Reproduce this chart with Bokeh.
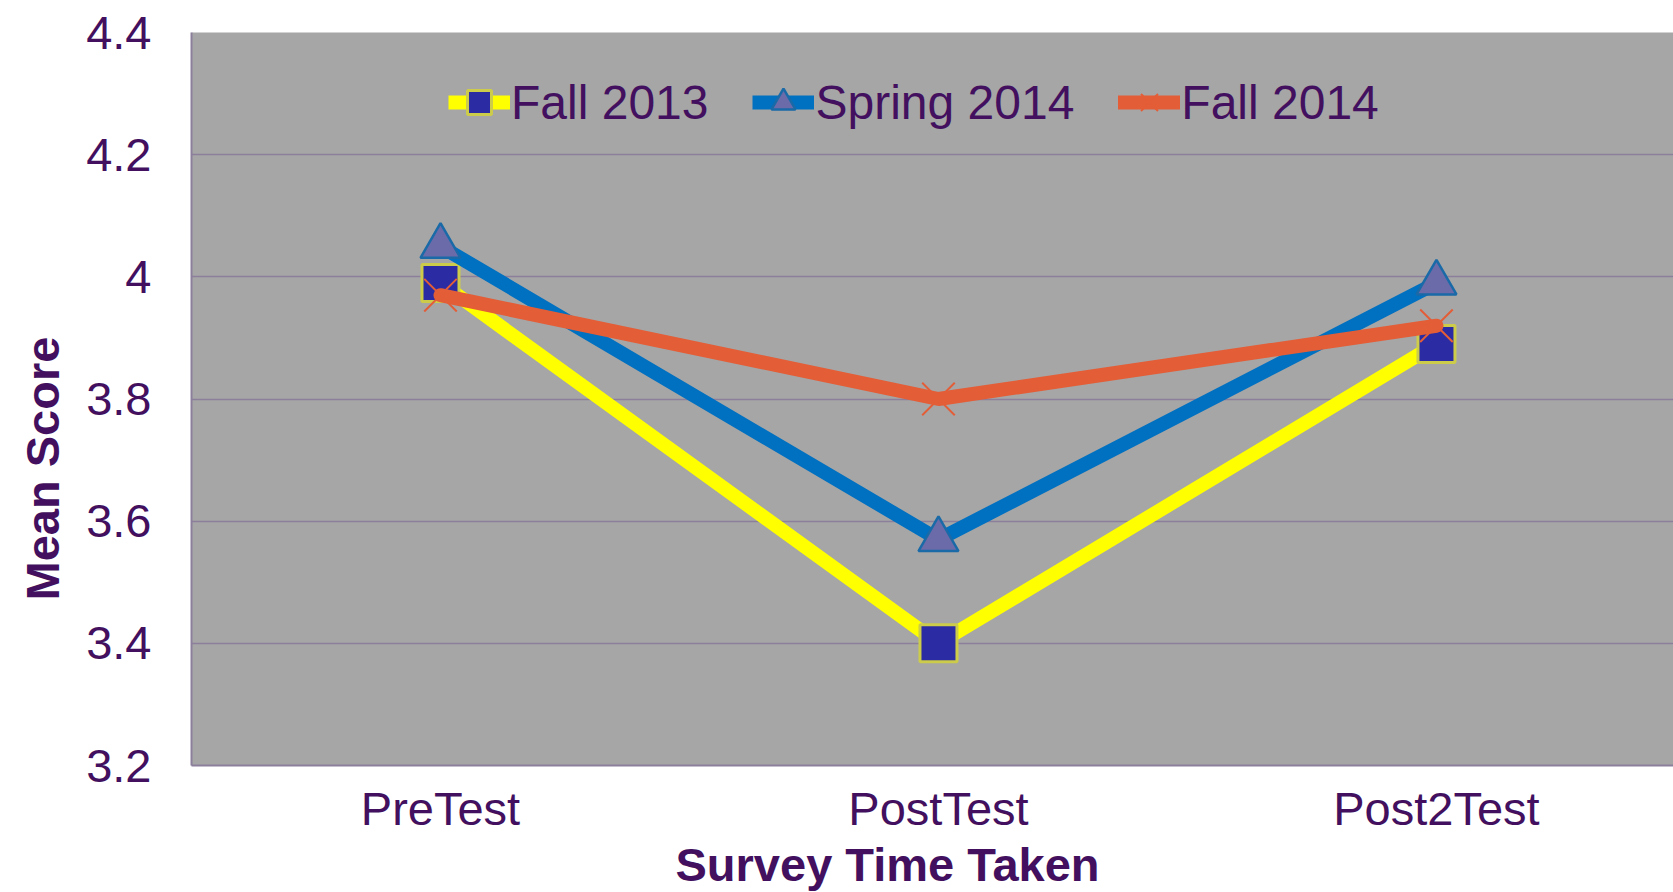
from bokeh.plotting import figure
from bokeh.models import FixedTicker, Range1d, Legend, LegendItem, Title
from bokeh.embed import file_html
from bokeh.resources import INLINE

# ---- data ----
categories = ["PreTest", "PostTest", "Post2Test"]
fall_2013 = [3.99, 3.40, 3.89]
spring_2014 = [4.05, 3.57, 3.99]
fall_2014 = [3.97, 3.80, 3.92]
series_names = ["Fall 2013", "Spring 2014", "Fall 2014"]
y_ticks = [3.2, 3.4, 3.6, 3.8, 4.0, 4.2, 4.4]
y_tick_labels = ["3.2", "3.4", "3.6", "3.8", "4", "4.2", "4.4"]
x_title = "Survey Time Taken"
y_title = "Mean Score"

# ---- style ----
TXT = "#42105e"
FONT = "Liberation Sans"
GRID = "#8b7f9c"

xs = list(range(len(categories)))

p = figure(width=1673, height=892,
           x_range=Range1d(-0.5, 2.476), y_range=Range1d(3.2, 4.4),
           output_backend="svg", toolbar_location=None,
           min_border_left=191, min_border_right=0,
           min_border_top=32, min_border_bottom=127,
           background_fill_color="#a6a6a6", border_fill_color="white",
           outline_line_color=None)

# axes
p.xaxis.ticker = FixedTicker(ticks=xs)
p.xaxis.major_label_overrides = {i: c for i, c in zip(xs, categories)}
p.yaxis.ticker = FixedTicker(ticks=y_ticks)
p.yaxis.major_label_overrides = {t: l for t, l in zip(y_ticks, y_tick_labels)}
for ax in (p.xaxis[0], p.yaxis[0]):
    ax.axis_line_color = GRID
    ax.axis_line_width = 2
    ax.major_tick_in = 0
    ax.major_tick_out = 0
    ax.minor_tick_in = 0
    ax.minor_tick_out = 0
    ax.major_label_text_font = FONT
    ax.major_label_text_font_size = "47px"
    ax.major_label_text_color = TXT
p.xaxis.major_label_standoff = 16
p.yaxis.major_label_standoff = 40

p.xgrid.visible = False
p.ygrid.ticker = FixedTicker(ticks=y_ticks)
p.ygrid.grid_line_color = GRID
p.ygrid.grid_line_width = 1.5

# series
r1l = p.line(xs, fall_2013, line_color="#ffff00", line_width=14)
r1m = p.scatter(xs, fall_2013, marker="square", size=37,
                fill_color="#2b2ba3", line_color="#cccc4a", line_width=3)
r2l = p.line(xs, spring_2014, line_color="#0070c0", line_width=14)
r2m = p.scatter(xs, spring_2014, marker="triangle", size=40,
                fill_color="#6b6baa", line_color="#1a6aa8", line_width=2.5)
r3m = p.scatter(xs, fall_2014, marker="x", size=46,
                line_color="#e35d37", line_width=2)
r3l = p.line(xs, fall_2014, line_color="#e35d37", line_width=14, line_cap="round")

legend = Legend(items=[
    LegendItem(label=series_names[0], renderers=[r1l, r1m]),
    LegendItem(label=series_names[1], renderers=[r2l, r2m]),
    LegendItem(label=series_names[2], renderers=[r3l, r3m]),
], location=(257, 633), orientation="horizontal",
    glyph_width=62, glyph_height=60, label_standoff=1, spacing=44,
    padding=0, margin=0, background_fill_alpha=0, border_line_color=None,
    label_text_font=FONT, label_text_font_size="48px", label_text_color=TXT)
p.add_layout(legend)

# axis titles
p.add_layout(Title(text=x_title, align="left", offset=484, vertical_align="top",
                   standoff=0, text_font=FONT, text_font_size="47px",
                   text_font_style="bold", text_color=TXT), "below")
p.add_layout(Title(text=y_title, align="left", offset=165, vertical_align="top",
                   standoff=26, text_font=FONT, text_font_size="47px",
                   text_font_style="bold", text_color=TXT), "left")

open("out.html", "w").write(file_html(p, INLINE))
